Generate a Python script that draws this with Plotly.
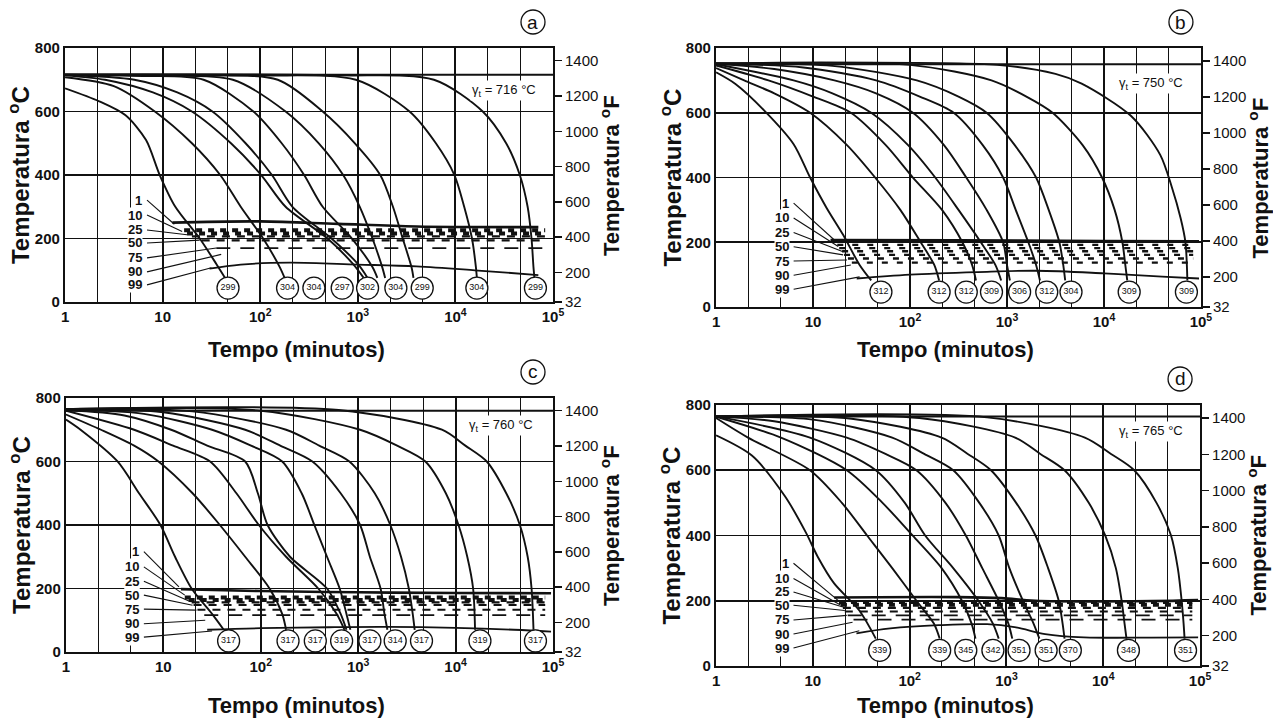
import plotly.graph_objects as go

# ---------------- data ----------------
panel_letters = ["a", "b", "c", "d"]
gamma_t = [716, 750, 760, 765]
pct_labels = ["1", "10", "25", "50", "75", "90", "99"]
x_tick_vals = [1, 10, 100, 1000, 10000, 100000]
x_tick_text = ["1", "10", "10<sup>2</sup>", "10<sup>3</sup>", "10<sup>4</sup>", "10<sup>5</sup>"]
y_tick_c = [0, 200, 400, 600, 800]
y_tick_f = [32, 200, 400, 600, 800, 1000, 1200, 1400]

# cooling curves: log10(time, minutes) and temperature (degC)
a_cool_logt = [
    [0, 0.35, 0.62, 0.83, 0.97, 1.13, 1.38, 1.55, 1.64],
    [0, 0.50, 0.92, 1.30, 1.59, 1.80, 2.03, 2.20, 2.25],
    [0, 0.41, 0.90, 1.30, 1.70, 2.01, 2.26, 2.69, 2.95, 3.06],
    [0, 0.71, 1.15, 1.51, 1.85, 2.12, 2.33, 2.73, 3.00, 3.10],
    [0, 0.80, 1.42, 1.93, 2.22, 2.45, 2.64, 2.94, 3.15, 3.20],
    [0, 1.00, 1.72, 2.26, 2.60, 2.85, 3.02, 3.15, 3.25, 3.28],
    [0, 1.40, 2.18, 2.64, 2.97, 3.23, 3.36, 3.46, 3.55, 3.57],
    [0, 2.00, 2.98, 3.53, 3.80, 3.99, 4.09, 4.17, 4.21, 4.22],
    [0, 2.80, 3.78, 4.28, 4.52, 4.66, 4.74, 4.78, 4.80, 4.81],
]
a_cool_temp = [
    [673, 632, 588, 510, 400, 300, 200, 120, 76],
    [708, 680, 600, 500, 400, 300, 200, 110, 76],
    [714, 700, 660, 600, 500, 400, 300, 200, 120, 76],
    [715, 700, 660, 600, 500, 400, 300, 200, 120, 76],
    [716, 712, 700, 600, 500, 400, 300, 200, 110, 76],
    [716, 713, 700, 600, 500, 400, 300, 200, 110, 76],
    [716, 714, 700, 600, 500, 400, 300, 200, 110, 76],
    [716, 714, 700, 600, 500, 400, 300, 200, 110, 76],
    [716, 714, 700, 600, 500, 400, 300, 200, 110, 76],
]
b_cool_logt = [
    [0, 0.20, 0.50, 0.80, 0.97, 1.14, 1.31, 1.48, 1.60],
    [0, 0.29, 0.60, 0.97, 1.35, 1.64, 1.90, 2.11, 2.25, 2.30],
    [0, 0.54, 1.00, 1.39, 1.75, 2.03, 2.33, 2.54, 2.64, 2.68],
    [0, 0.80, 1.20, 1.60, 1.98, 2.26, 2.50, 2.73, 2.88, 2.94],
    [0, 0.60, 1.22, 1.65, 2.03, 2.35, 2.58, 2.79, 2.96, 3.00, 3.03],
    [0, 0.90, 1.65, 2.10, 2.45, 2.75, 2.96, 3.09, 3.22, 3.30, 3.34],
    [0, 1.20, 2.07, 2.50, 2.79, 3.08, 3.30, 3.43, 3.54, 3.58, 3.60],
    [0, 2.00, 2.84, 3.20, 3.47, 3.78, 3.98, 4.11, 4.19, 4.22, 4.24],
    [0, 2.90, 3.50, 3.77, 4.28, 4.58, 4.70, 4.79, 4.84, 4.86],
]
b_cool_temp = [
    [725, 689, 606, 503, 400, 306, 223, 130, 82],
    [738, 700, 660, 600, 500, 400, 300, 200, 130, 82],
    [746, 700, 650, 600, 500, 400, 300, 200, 130, 82],
    [750, 700, 660, 600, 500, 400, 300, 200, 130, 82],
    [752, 735, 700, 660, 600, 500, 400, 300, 200, 130, 82],
    [752, 740, 700, 650, 600, 500, 400, 300, 200, 130, 82],
    [752, 745, 700, 650, 600, 500, 400, 300, 200, 130, 82],
    [752, 748, 700, 650, 600, 500, 400, 300, 200, 130, 82],
    [752, 748, 720, 690, 590, 470, 370, 275, 200, 82],
]
c_cool_logt = [
    [0, 0.15, 0.53, 0.75, 0.97, 1.12, 1.29, 1.50, 1.62],
    [0, 0.36, 0.70, 0.95, 1.30, 1.58, 1.84, 2.09, 2.22, 2.26],
    [0, 0.70, 1.10, 1.48, 1.75, 1.98, 2.26, 2.59, 2.78, 2.86],
    [0, 0.60, 1.08, 1.45, 1.84, 1.97, 2.07, 2.30, 2.68, 2.82, 2.88],
    [0, 0.80, 1.50, 1.90, 2.22, 2.42, 2.55, 2.68, 2.81, 2.88, 2.92],
    [0, 1.00, 1.84, 2.20, 2.53, 2.82, 3.02, 3.12, 3.23, 3.27, 3.30],
    [0, 1.30, 2.26, 2.60, 2.91, 3.17, 3.33, 3.44, 3.52, 3.56, 3.58],
    [0, 2.00, 3.02, 3.40, 3.69, 3.90, 4.03, 4.12, 4.18, 4.20],
    [0, 2.80, 3.86, 4.10, 4.32, 4.52, 4.66, 4.74, 4.78, 4.80],
]
c_cool_temp = [
    [732, 700, 600, 500, 400, 300, 200, 120, 70],
    [748, 700, 650, 600, 500, 400, 300, 200, 120, 70],
    [760, 700, 650, 600, 500, 400, 300, 200, 120, 70],
    [762, 745, 700, 650, 600, 500, 400, 300, 200, 120, 70],
    [764, 750, 700, 650, 600, 500, 400, 300, 200, 120, 70],
    [765, 755, 700, 650, 600, 500, 400, 300, 200, 120, 70],
    [765, 758, 700, 650, 600, 500, 400, 300, 200, 120, 70],
    [765, 760, 700, 650, 600, 500, 400, 300, 200, 70],
    [765, 762, 700, 650, 600, 500, 400, 300, 200, 70],
]
d_cool_logt = [
    [0, 0.37, 0.71, 0.93, 1.05, 1.22, 1.48, 1.65],
    [0, 0.33, 0.97, 1.30, 1.56, 1.82, 2.07, 2.25, 2.31],
    [0, 0.67, 1.35, 1.72, 2.03, 2.33, 2.54, 2.64, 2.68],
    [0, 0.97, 1.65, 1.95, 2.16, 2.45, 2.71, 2.86, 2.92],
    [0, 0.60, 1.35, 1.75, 2.07, 2.37, 2.58, 2.75, 2.92, 3.02, 3.06],
    [0, 1.00, 1.82, 2.15, 2.45, 2.72, 2.92, 3.03, 3.17, 3.28, 3.34],
    [0, 1.40, 2.33, 2.60, 2.84, 3.10, 3.30, 3.43, 3.54, 3.58, 3.60],
    [0, 2.10, 3.09, 3.35, 3.60, 3.85, 4.02, 4.13, 4.19, 4.22, 4.24],
    [0, 2.80, 3.81, 4.08, 4.32, 4.55, 4.70, 4.77, 4.81, 4.83, 4.84],
]
d_cool_temp = [
    [707, 645, 521, 408, 335, 253, 170, 84],
    [760, 700, 600, 500, 400, 300, 200, 130, 84],
    [764, 700, 600, 500, 400, 300, 200, 130, 84],
    [765, 700, 600, 500, 400, 300, 200, 130, 84],
    [765, 750, 700, 650, 600, 500, 400, 300, 200, 130, 84],
    [765, 755, 700, 650, 600, 500, 400, 300, 200, 130, 84],
    [765, 758, 700, 650, 600, 500, 400, 300, 200, 130, 84],
    [765, 760, 700, 650, 600, 500, 400, 300, 200, 130, 84],
    [765, 762, 700, 650, 600, 500, 400, 300, 200, 130, 84],
]

# martensite start (Ms) lines
a_ms_logt = [1.10, 2.0, 2.8, 3.6, 4.85]
a_ms_temp = [250, 254, 246, 238, 236]
b_ms_logt = [1.18, 2.5, 4.0, 4.98]
b_ms_temp = [207, 206, 204, 203]
c_ms_logt = [1.18, 2.0, 3.0, 4.0, 4.98]
c_ms_temp = [198, 192, 188, 186, 185]
d_ms_logt = [1.22, 2.5, 2.95, 3.3, 4.5, 4.98]
d_ms_temp = [210, 211, 208, 200, 199, 202]

# % martensite lines (dashed): start log-time and level
a_pct_start = [1.22, 1.25, 1.30, 1.40, 1.55]
a_pct_temp = [226, 216, 207, 194, 170]
b_pct_start = [1.25, 1.27, 1.30, 1.32, 1.36, 1.40]
b_pct_temp = [192, 182, 172, 161, 150, 137]
c_pct_start = [1.22, 1.26, 1.29, 1.31, 1.35, 1.42]
c_pct_temp = [172, 164, 156, 148, 133, 116]
d_pct_start = [1.27, 1.29, 1.31, 1.33, 1.36, 1.42]
d_pct_temp = [196, 188, 178, 167, 155, 142]

# 99 % martensite lines (solid)
a_m99_logt = [1.48, 1.8, 2.3, 3.0, 3.6, 4.2, 4.85]
a_m99_temp = [105, 118, 124, 118, 112, 100, 85]
b_m99_logt = [1.45, 2.0, 2.7, 3.3, 4.0, 4.6, 4.98]
b_m99_temp = [88, 100, 108, 112, 104, 94, 88]
c_m99_logt = [1.45, 2.0, 2.7, 3.3, 4.0, 4.6, 4.98]
c_m99_temp = [70, 75, 78, 79, 76, 70, 64]
d_m99_logt = [1.45, 1.8, 2.3, 2.8, 3.1, 3.4, 3.8, 4.5, 4.98]
d_m99_temp = [100, 115, 125, 128, 118, 98, 88, 87, 88]

# hardness values in circles
a_hard_logt = [1.67, 2.28, 2.55, 2.84, 3.10, 3.39, 3.66, 4.22, 4.82]
a_hard_vals = ["299", "304", "304", "297", "302", "304", "299", "304", "299"]
b_hard_logt = [1.70, 2.30, 2.58, 2.84, 3.13, 3.41, 3.66, 4.26, 4.85]
b_hard_vals = ["312", "312", "312", "309", "306", "312", "304", "309", "309"]
c_hard_logt = [1.67, 2.28, 2.56, 2.83, 3.12, 3.38, 3.65, 4.25, 4.82]
c_hard_vals = ["317", "317", "317", "319", "317", "314", "317", "319", "317"]
d_hard_logt = [1.69, 2.31, 2.58, 2.86, 3.13, 3.41, 3.66, 4.26, 4.85]
d_hard_vals = ["339", "339", "345", "342", "351", "351", "370", "348", "351"]
hard_temp = [44, 46, 35, 48]

# percent labels (temperature of each label) and leader-line targets
a_lab_temp = [321, 274, 227, 186, 139, 95, 54]
a_lead_logt = [1.12, 1.20, 1.25, 1.38, 1.55, 1.60, 1.50]
a_lead_temp = [245, 222, 212, 195, 170, 150, 108]
b_lab_temp = [321, 275, 230, 186, 142, 98, 55]
b_lead_logt = [1.22, 1.26, 1.31, 1.31, 1.35, 1.39, 1.48]
b_lead_temp = [207, 187, 171, 161, 145, 130, 93]
c_lab_temp = [316, 268, 223, 179, 135, 89, 47]
c_lead_logt = [1.16, 1.22, 1.28, 1.30, 1.34, 1.43, 1.50]
c_lead_temp = [205, 179, 158, 147, 132, 100, 66]
d_lab_temp = [315, 268, 227, 186, 141, 98, 55]
d_lead_logt = [1.26, 1.29, 1.31, 1.33, 1.35, 1.41, 1.48]
d_lead_temp = [201, 186, 181, 170, 155, 134, 108]

# ---------------- styling / layout ----------------
FONT = "Liberation Sans"
BLACK = "#111111"
W, H = 1273, 721
dom_x = [(0.0511, 0.4344), (0.5625, 0.9434), (0.0518, 0.4344), (0.5625, 0.9427)]
dom_y = [(0.5811, 0.9334), (0.5742, 0.9334), (0.0957, 0.4480), (0.0763, 0.4383)]
xtitle_px = [349, 349, 705, 705]          # vertical pixel of "Tempo (minutos)"
lab_x = [0.80, 0.76, 0.76, 0.76]          # right edge of % labels (log10 minutes)
gamma_txt_x = [4.50, 4.49, 4.47, 4.49]    # log10 minutes
gamma_txt_y = [665, 689, 714, 719]
dash_end = 4.92

heavy = dict(width=4, dash="6px,6px")
mid = dict(width=2.2, dash="8px,7px")
short = dict(width=2.4, dash="6px,9px")
longd = dict(width=1.8, dash="14px,10px")
pct_styles = [
    [heavy, heavy, mid, mid, longd],
    [short, short, short, short, short, short],
    [heavy, heavy, mid, mid, mid, longd],
    [heavy, heavy, mid, mid, longd, longd],
]

panels = [
    (a_cool_logt, a_cool_temp, a_ms_logt, a_ms_temp, a_pct_start, a_pct_temp, a_m99_logt, a_m99_temp,
     a_hard_logt, a_hard_vals, a_lab_temp, a_lead_logt, a_lead_temp),
    (b_cool_logt, b_cool_temp, b_ms_logt, b_ms_temp, b_pct_start, b_pct_temp, b_m99_logt, b_m99_temp,
     b_hard_logt, b_hard_vals, b_lab_temp, b_lead_logt, b_lead_temp),
    (c_cool_logt, c_cool_temp, c_ms_logt, c_ms_temp, c_pct_start, c_pct_temp, c_m99_logt, c_m99_temp,
     c_hard_logt, c_hard_vals, c_lab_temp, c_lead_logt, c_lead_temp),
    (d_cool_logt, d_cool_temp, d_ms_logt, d_ms_temp, d_pct_start, d_pct_temp, d_m99_logt, d_m99_temp,
     d_hard_logt, d_hard_vals, d_lab_temp, d_lead_logt, d_lead_temp),
]


def tmin(logs):
    return [10 ** v for v in logs]


fig = go.Figure()
annotations = []
shapes = []
minor_vals = [10 ** (d + f) for d in range(5) for f in (1 / 3, 2 / 3)]
layout = dict(
    width=W, height=H, margin=dict(l=0, r=0, t=0, b=0, autoexpand=False),
    paper_bgcolor="white", plot_bgcolor="white", showlegend=False,
    font=dict(family=FONT, color=BLACK),
)

for i, p in enumerate(panels):
    (cl, ct, msl, mst, ps, pt, m99l, m99t, hl, hv, labt, ldl, ldt) = p
    n = i + 1
    sfx = "" if n == 1 else str(n)
    xr, yr = "x" + sfx, "y" + sfx
    yf = "y" + str(n + 4)
    common = dict(xaxis=xr, yaxis=yr, showlegend=False, hoverinfo="skip")

    # gamma_t line
    fig.add_trace(go.Scatter(x=[x_tick_vals[0], x_tick_vals[-1]], y=[gamma_t[i]] * 2, mode="lines",
                             line=dict(color=BLACK, width=2), **common))
    # Ms line
    fig.add_trace(go.Scatter(x=tmin(msl), y=mst, mode="lines", line=dict(color=BLACK, width=2.6,
                                                                         shape="spline"), **common))
    # % martensite dashed lines
    for k, (s, lvl) in enumerate(zip(ps, pt)):
        st = pct_styles[i][k]
        fig.add_trace(go.Scatter(x=[10 ** s, 10 ** dash_end], y=[lvl, lvl], mode="lines",
                                 line=dict(color=BLACK, width=st["width"], dash=st["dash"]), **common))
    # 99 % line
    fig.add_trace(go.Scatter(x=tmin(m99l), y=m99t, mode="lines",
                             line=dict(color=BLACK, width=1.8, shape="spline"), **common))
    # cooling curves
    for lx, ty in zip(cl, ct):
        fig.add_trace(go.Scatter(x=tmin(lx), y=ty, mode="lines",
                                 line=dict(color=BLACK, width=1.9, shape="spline", smoothing=0.8),
                                 **common))
    # leader lines
    lx, ly = [], []
    for t_lab, tx, ty in zip(labt, ldl, ldt):
        lx += [10 ** (lab_x[i] + 0.04), 10 ** tx, None]
        ly += [t_lab, ty, None]
    fig.add_trace(go.Scatter(x=lx, y=ly, mode="lines", line=dict(color=BLACK, width=1.1), **common))
    # hardness circles
    fig.add_trace(go.Scatter(x=tmin(hl), y=[hard_temp[i]] * len(hl), mode="markers+text",
                             text=hv, textposition="middle center",
                             textfont=dict(size=9, family=FONT, color=BLACK),
                             marker=dict(size=22, color="white", line=dict(color=BLACK, width=1.3)),
                             cliponaxis=False, **common))
    # invisible trace for the Fahrenheit axis
    fig.add_trace(go.Scatter(x=[x_tick_vals[0]] * len(y_tick_f), y=y_tick_f, mode="markers",
                             marker=dict(opacity=0), xaxis=xr, yaxis=yf, showlegend=False,
                             hoverinfo="skip"))

    layout["xaxis" + sfx] = dict(
        type="log", range=[0, 5], domain=list(dom_x[i]), anchor=yr, automargin=False,
        tickvals=x_tick_vals, ticktext=x_tick_text, ticks="",
        tickfont=dict(size=15, family=FONT, color=BLACK, weight="bold"),
        showline=True, mirror=True, linecolor=BLACK, linewidth=2.2,
        showgrid=True, gridcolor=BLACK, gridwidth=2,
        minor=dict(tickvals=minor_vals, showgrid=True, gridcolor=BLACK, gridwidth=1, ticks=""),
        zeroline=False, fixedrange=True,
    )
    layout["yaxis" + sfx] = dict(
        range=[0, 800], domain=list(dom_y[i]), anchor=xr, automargin=False,
        tickvals=y_tick_c, ticks="",
        tickfont=dict(size=15, family=FONT, color=BLACK, weight="bold"),
        showline=True, mirror=True, linecolor=BLACK, linewidth=2.2,
        showgrid=True, gridcolor=BLACK, gridwidth=1.6, zeroline=False, fixedrange=True,
    )
    layout["yaxis" + str(n + 4)] = dict(
        overlaying=yr, side="right", anchor=xr, range=[32, 32 + 800 * 1.8], automargin=False,
        tickvals=y_tick_f, ticks="outside", ticklen=8, tickwidth=1.5, tickcolor=BLACK,
        tickfont=dict(size=15, family=FONT, color=BLACK),
        showgrid=False, showline=False, zeroline=False, fixedrange=True,
    )

    # percent labels
    for lab, t_lab in zip(pct_labels, labt):
        annotations.append(dict(x=lab_x[i], y=t_lab, xref=xr, yref=yr, text=lab, showarrow=False,
                                xanchor="right", yanchor="middle", bgcolor="white", borderpad=0,
                                font=dict(size=13, family=FONT, color=BLACK, weight="bold")))
    # gamma_t text
    annotations.append(dict(x=gamma_txt_x[i], y=gamma_txt_y[i], xref=xr, yref=yr,
                            text="γ<sub>t</sub> = %d °C" % gamma_t[i], showarrow=False,
                            xanchor="center", yanchor="middle",
                            bgcolor="white", font=dict(size=13, family=FONT, color=BLACK)))

    x0, x1 = dom_x[i]
    y0, y1 = dom_y[i]
    xc = (x0 + x1) / 2
    yc = (y0 + y1) / 2
    # axis titles
    annotations.append(dict(x=x0 - 46 / W, y=yc, xref="paper", yref="paper",
                            xanchor="center", yanchor="middle",
                            text="Temperatura <sup>o</sup>C", textangle=-90, showarrow=False,
                            font=dict(size=24, family=FONT, color=BLACK, weight="bold")))
    annotations.append(dict(x=x1 + 57 / W, y=yc, xref="paper", yref="paper",
                            xanchor="center", yanchor="middle",
                            text="Temperatura <sup>o</sup>F", textangle=-90, showarrow=False,
                            font=dict(size=22, family=FONT, color=BLACK, weight="bold")))
    annotations.append(dict(x=xc - 0.01, y=1 - xtitle_px[i] / H, xref="paper", yref="paper",
                            text="Tempo (minutos)", showarrow=False,
                            xanchor="center", yanchor="middle",
                            font=dict(size=22, family=FONT, color=BLACK, weight="bold")))
    # panel letter in a circle
    lx_p = x1 - 20 / W
    ly_p = y1 + 26 / H
    shapes.append(dict(type="circle", xref="paper", yref="paper", xsizemode="pixel",
                       ysizemode="pixel", xanchor=lx_p, yanchor=ly_p, x0=-12, x1=12, y0=-12, y1=12,
                       line=dict(color=BLACK, width=1.3), fillcolor="white"))
    annotations.append(dict(x=lx_p, y=ly_p, xref="paper", yref="paper", text=panel_letters[i],
                            xanchor="center", yanchor="middle",
                            showarrow=False, font=dict(size=19, family=FONT, color=BLACK)))

layout["annotations"] = annotations
layout["shapes"] = shapes
fig.update_layout(**layout)
fig.write_html(
    "out.html",
    config={"displayModeBar": False, "staticPlot": True},
    post_script="document.body.style.margin='0';document.body.style.overflow='hidden';",
)
